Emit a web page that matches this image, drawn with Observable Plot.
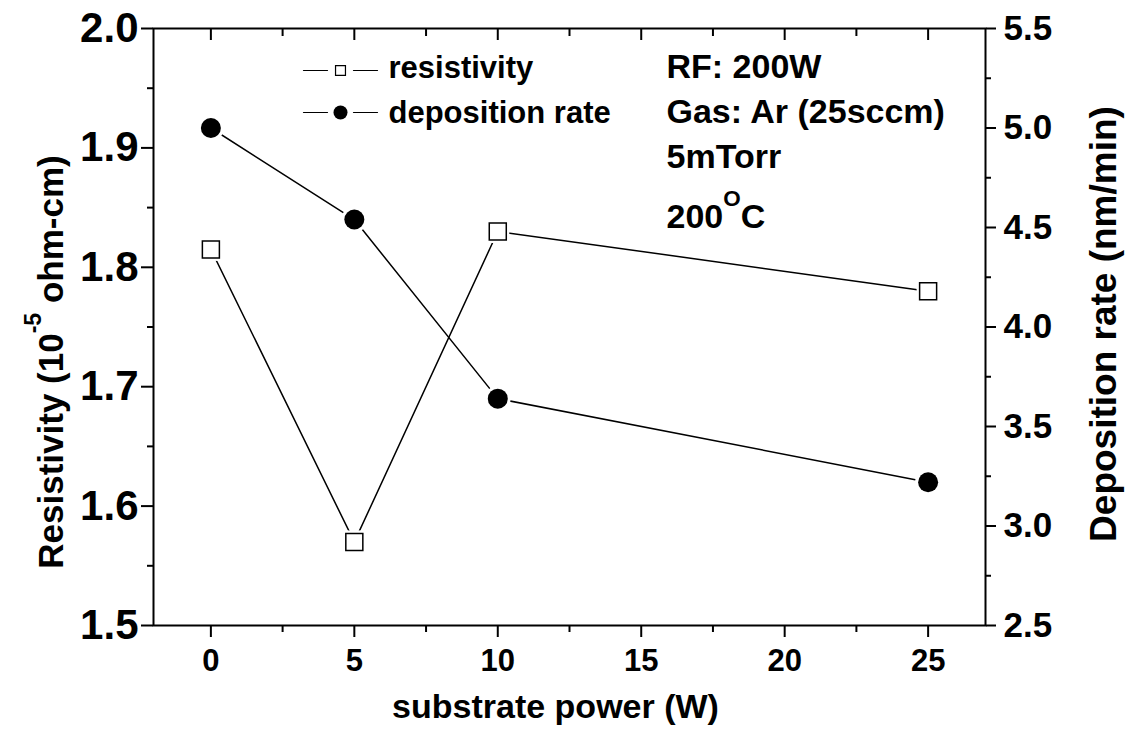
<!DOCTYPE html>
<html>
<head>
<meta charset="utf-8">
<script src="https://cdn.jsdelivr.net/npm/d3@7"></script>
<script src="https://cdn.jsdelivr.net/npm/@observablehq/plot@0.6"></script>
<style>
  html, body { margin: 0; padding: 0; background: #ffffff; }
  #chart svg { font-family: "Liberation Sans", Arial, sans-serif; }
</style>
</head>
<body>
<div id="chart"></div>
<script>
// ---- data ----
const power = [0, 5, 10, 25];
const resistivity = [1.815, 1.57, 1.83, 1.78];
const depositionRate = [5.0, 4.54, 3.64, 3.22];

const xTicks = [0, 5, 10, 15, 20, 25];
const xMinorTicks = [2.5, 7.5, 12.5, 17.5, 22.5];
const leftTicks = [1.5, 1.6, 1.7, 1.8, 1.9, 2.0];
const leftMinorTicks = [1.55, 1.65, 1.75, 1.85, 1.95];
const rightTicks = [2.5, 3.0, 3.5, 4.0, 4.5, 5.0, 5.5];
const rightMinorTicks = [2.75, 3.25, 3.75, 4.25, 4.75, 5.25];

const legendLabels = ["resistivity", "deposition rate"];
const notes = ["RF: 200W", "Gas: Ar (25sccm)", "5mTorr", "200{O}C"];
const xLabel = "substrate power (W)";
const yLabelLeft = "Resistivity (10{-5} ohm-cm)";
const yLabelRight = "Deposition rate (nm/min)";

// ---- dual axis mapping ----
const resDomain = [1.5, 2.0];
const depDomain = [2.5, 5.5];
const depToY = d => resDomain[0] + (d - depDomain[0]) * (resDomain[1] - resDomain[0]) / (depDomain[1] - depDomain[0]);
const yToDep = y => depDomain[0] + (y - resDomain[0]) * (depDomain[1] - depDomain[0]) / (resDomain[1] - resDomain[0]);

const resData = power.map((p, i) => ({power: p, value: resistivity[i]}));
const depData = power.map((p, i) => ({power: p, value: depToY(depositionRate[i])}));

const fmt1 = d3.format(".1f");
const hline = {draw(context, l) { context.moveTo(0, 0); context.lineTo(l, 0); }};
const bold = {fontWeight: "bold", fill: "black"};

const noteBaselines = [49, 94, 139, 199];
const legendBaselines = [49, 94];
const legendSymbolY = [42, 84];

const chartSvg = Plot.plot({
  width: 1127,
  height: 730,
  marginLeft: 153,
  marginRight: 142,
  marginTop: 28,
  marginBottom: 105,
  style: {fontFamily: "'Liberation Sans', Arial, sans-serif", background: "white", color: "black"},
  x: {domain: [-2, 27]},
  y: {domain: resDomain},
  marks: [
    // axes
    Plot.axisX(xTicks, {anchor: "bottom", tickSize: 12, tickPadding: 11, fontSize: 31, ...bold, strokeWidth: 2, label: null, tickFormat: d => String(d)}),
    Plot.axisX(xMinorTicks, {anchor: "bottom", tickSize: 7, strokeWidth: 2, label: null, tickFormat: () => ""}),
    Plot.axisX(xTicks, {anchor: "top", tickSize: -11, strokeWidth: 2, label: null, tickFormat: () => ""}),
    Plot.axisX(xMinorTicks, {anchor: "top", tickSize: -7, strokeWidth: 2, label: null, tickFormat: () => ""}),
    Plot.axisY(leftTicks, {anchor: "left", tickSize: 12, tickPadding: 3, fontSize: 42, ...bold, strokeWidth: 2, label: null, tickFormat: fmt1}),
    Plot.axisY(leftMinorTicks, {anchor: "left", tickSize: 6, strokeWidth: 2, label: null, tickFormat: () => ""}),
    Plot.axisY(rightTicks.map(depToY), {anchor: "right", tickSize: 10, tickPadding: 8, fontSize: 35, ...bold, strokeWidth: 2, label: null, tickFormat: y => fmt1(yToDep(y))}),
    Plot.axisY(rightMinorTicks.map(depToY), {anchor: "right", tickSize: 5, strokeWidth: 2, label: null, tickFormat: () => ""}),
    Plot.frame({stroke: "black", strokeWidth: 2}),

    // axis titles
    Plot.text([xLabel], {frameAnchor: "bottom", textAnchor: "middle", lineAnchor: "bottom", dx: -14, dy: 92, fontSize: 34, ...bold}),
    Plot.text([yLabelLeft], {frameAnchor: "left", textAnchor: "middle", rotate: -90, lineAnchor: "bottom", dx: -91, dy: 35, fontSize: 35, ...bold}),
    Plot.text([yLabelRight], {frameAnchor: "right", textAnchor: "middle", rotate: -90, lineAnchor: "bottom", dx: 130, dy: -3, fontSize: 37, ...bold}),

    // series lines
    Plot.line(resData, {x: "power", y: "value", stroke: "black", strokeWidth: 1.5}),
    Plot.line(depData, {x: "power", y: "value", stroke: "black", strokeWidth: 1.5}),
    // halos to leave a gap between lines and symbols
    Plot.dot(resData, {x: "power", y: "value", symbol: "square", r: 13, fill: "white", stroke: null}),
    Plot.dot(depData, {x: "power", y: "value", symbol: "circle", r: 13, fill: "white", stroke: null}),
    // symbols
    Plot.dot(resData, {x: "power", y: "value", symbol: "square", r: 9.6, fill: "white", stroke: "black", strokeWidth: 1.5}),
    Plot.dot(depData, {x: "power", y: "value", symbol: "circle", r: 10, fill: "black", stroke: null}),

    // legend
    Plot.vector([0], {frameAnchor: "top-left", dx: 150, dy: legendSymbolY[0], length: 24, shape: hline, anchor: "start", stroke: "black", strokeWidth: 1.2}),
    Plot.vector([0], {frameAnchor: "top-left", dx: 200, dy: legendSymbolY[0], length: 24, shape: hline, anchor: "start", stroke: "black", strokeWidth: 1.2}),
    Plot.dot([0], {frameAnchor: "top-left", dx: 187, dy: legendSymbolY[0], symbol: "square", r: 5.6, fill: "white", stroke: "black", strokeWidth: 1.2}),
    Plot.vector([0], {frameAnchor: "top-left", dx: 150, dy: legendSymbolY[1], length: 24, shape: hline, anchor: "start", stroke: "black", strokeWidth: 1.2}),
    Plot.vector([0], {frameAnchor: "top-left", dx: 200, dy: legendSymbolY[1], length: 24, shape: hline, anchor: "start", stroke: "black", strokeWidth: 1.2}),
    Plot.dot([0], {frameAnchor: "top-left", dx: 187, dy: legendSymbolY[1], symbol: "circle", r: 7, fill: "black", stroke: null}),
    ...legendLabels.map((t, i) => Plot.text([t], {frameAnchor: "top-left", textAnchor: "start", lineAnchor: "bottom", dx: 235, dy: legendBaselines[i], fontSize: 31, ...bold})),

    // notes
    ...notes.map((t, i) => Plot.text([t], {frameAnchor: "top-left", textAnchor: "start", lineAnchor: "bottom", dx: 513, dy: noteBaselines[i], fontSize: 34, ...bold}))
  ]
});

document.getElementById("chart").appendChild(chartSvg);

// superscripts: {..} marks raised, smaller text
d3.select(chartSvg).selectAll("text").each(function () {
  const t = this.textContent;
  if (!t.includes("{")) return;
  const fs = parseFloat(getComputedStyle(this).fontSize) || 32;
  const parts = t.split(/\{([^}]*)\}/);
  const sel = d3.select(this);
  sel.text(null);
  let raised = false;
  parts.forEach((p, i) => {
    if (p === "") return;
    const sup = i % 2 === 1;
    const ts = sel.append("tspan").text(p);
    if (sup) { ts.attr("font-size", fs * 0.66).attr("dy", -fs * 0.62); raised = true; }
    else if (raised) { ts.attr("dy", fs * 0.62); raised = false; }
  });
});
</script>
</body>
</html>
